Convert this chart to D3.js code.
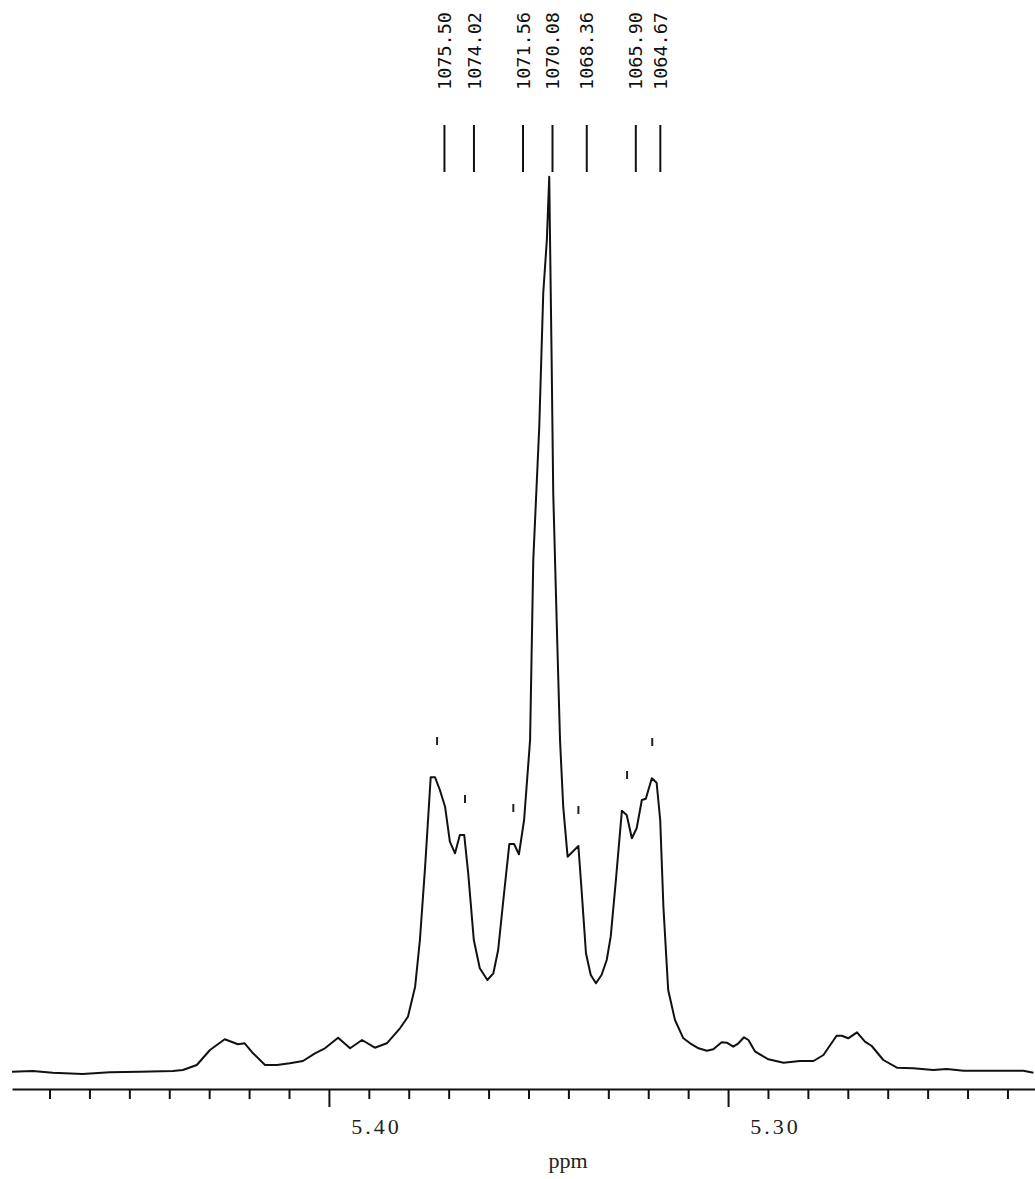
<!DOCTYPE html>
<html>
<head>
<meta charset="utf-8">
<script src="https://cdn.jsdelivr.net/npm/d3@7"></script>
<style>
  html, body { margin: 0; padding: 0; background: #fff; }
  svg { display: block; }
</style>
</head>
<body>
<div id="chart"></div>
<script>
// spectrum trace: [ppm, intensity (arbitrary units)]
const spectrum = [
  [5.4794, 3.3], [5.4742, 4], [5.4692, 2.3], [5.4617, 1], [5.4549, 2.7],
  [5.4474, 3.3], [5.4391, 4], [5.4366, 5], [5.4331, 10], [5.4298, 25],
  [5.4261, 35.7], [5.4228, 30.7], [5.4211, 31.7], [5.4190, 21.7], [5.4160, 10],
  [5.4130, 10], [5.4098, 11.7], [5.4065, 14], [5.4035, 21.7], [5.4010, 26.7],
  [5.3977, 37.3], [5.3947, 26.7], [5.3917, 35], [5.3885, 27.3], [5.3855, 31.7],
  [5.3822, 46.7], [5.3802, 58.3], [5.3784, 88.3], [5.3772, 135], [5.3759, 208.3],
  [5.3745, 297.7], [5.3734, 297.7], [5.3722, 285], [5.3709, 268.3], [5.3697, 233.3],
  [5.3684, 221.7], [5.3672, 240], [5.3661, 240], [5.3651, 201.7], [5.3637, 135],
  [5.3622, 106.7], [5.3603, 95], [5.3588, 101.7], [5.3576, 125], [5.3563, 175],
  [5.3548, 231], [5.3536, 231], [5.3524, 220.7], [5.3511, 255], [5.3496, 335],
  [5.3488, 515], [5.3473, 648.3], [5.3463, 782], [5.3454, 835], [5.3448, 898.3],
  [5.3446, 835], [5.3442, 715], [5.3438, 582], [5.3429, 448.3], [5.3421, 335],
  [5.3413, 268.3], [5.3402, 218.3], [5.3375, 229], [5.3367, 185], [5.3356, 121.7],
  [5.3344, 100], [5.3331, 91.7], [5.3317, 100], [5.3304, 115], [5.3294, 138.3],
  [5.3281, 195], [5.3266, 264.3], [5.3254, 260], [5.3241, 236.7], [5.3229, 246.7],
  [5.3216, 275], [5.3206, 276.3], [5.3191, 296.7], [5.3179, 292.3], [5.3170, 255],
  [5.3162, 168.3], [5.3150, 85], [5.3133, 55], [5.3112, 36.7], [5.3095, 31.7],
  [5.3074, 26.7], [5.3053, 24.3], [5.3037, 25.7], [5.3016, 32.7], [5.3003, 32.3],
  [5.2987, 28.3], [5.2974, 31.7], [5.2960, 37.7], [5.2949, 35], [5.2932, 23.3],
  [5.2899, 15.7], [5.2861, 12.3], [5.2820, 14], [5.2786, 14], [5.2761, 20],
  [5.2744, 30], [5.2728, 39.3], [5.2715, 39.3], [5.2699, 36.7], [5.2677, 42.7],
  [5.2657, 33.3], [5.2640, 29], [5.2611, 15], [5.2577, 7.3], [5.2536, 6.7],
  [5.2486, 5], [5.2452, 6], [5.2410, 4.3], [5.2327, 4.3], [5.2260, 4.3],
  [5.2235, 2.3]
];

// peak list (Hz) printed on top
const peakHz = [1075.50, 1074.02, 1071.56, 1070.08, 1068.36, 1065.90, 1064.67];
const specFreq = 200.24; // MHz

// picked peak positions (ppm) and heights for the small markers
const pickPpm = [5.3729, 5.3659, 5.3538, 5.3375, 5.3253, 5.3190];
const pickHeight = [298, 240, 231, 229, 264, 297];

// axis
const ppmDomain = [5.4794, 5.2231];
const tickStep = 0.01;
const majorTicks = [5.40, 5.30];
const axisTitle = 'ppm';

const width = 1035, height = 1179;
const axisY = 1089;

const svg = d3.select('#chart').append('svg')
  .attr('width', width)
  .attr('height', height);

const x = d3.scaleLinear().domain(ppmDomain).range([12, 1035]);
const y = d3.scaleLinear().domain([0, 900]).range([1075, 175]);

// spectrum line
const line = d3.line()
  .x(d => x(d[0]))
  .y(d => y(d[1]))
  .curve(d3.curveLinear);

svg.append('path')
  .datum(spectrum)
  .attr('d', line)
  .attr('fill', 'none')
  .attr('stroke', '#111')
  .attr('stroke-width', 2)
  .attr('stroke-linejoin', 'round');

// peak pick markers
svg.selectAll('.pick')
  .data(d3.zip(pickPpm, pickHeight))
  .enter().append('line')
  .attr('class', 'pick')
  .attr('x1', d => x(d[0]))
  .attr('x2', d => x(d[0]))
  .attr('y1', d => y(d[1]) - 32)
  .attr('y2', d => y(d[1]) - 40)
  .attr('stroke', '#222')
  .attr('stroke-width', 2);

// peak list lines + labels
const labels = svg.append('g').attr('class', 'peak-labels');

labels.selectAll('line')
  .data(peakHz)
  .enter().append('line')
  .attr('x1', d => x(d / specFreq))
  .attr('x2', d => x(d / specFreq))
  .attr('y1', 125)
  .attr('y2', 172)
  .attr('stroke', '#111')
  .attr('stroke-width', 2);

labels.selectAll('text')
  .data(peakHz)
  .enter().append('text')
  .attr('transform', d => `translate(${x(d / specFreq)},90) rotate(-90)`)
  .attr('dy', '0.36em')
  .attr('font-family', '"DejaVu Sans Mono", monospace')
  .attr('font-size', 18.5)
  .attr('fill', '#111')
  .text(d => d.toFixed(2));

// x axis
const tickValues = d3.range(5.23, 5.4705, tickStep).map(v => +v.toFixed(2));
const isMajor = v => majorTicks.some(m => Math.abs(m - v) < 1e-6);

const axis = d3.axisBottom(x)
  .tickValues(tickValues)
  .tickSizeInner(10)
  .tickSizeOuter(0)
  .tickFormat(d => isMajor(d) ? d.toFixed(2) : '');

const gAxis = svg.append('g')
  .attr('transform', `translate(0,${axisY})`)
  .call(axis);

gAxis.select('.domain')
  .attr('stroke', '#111')
  .attr('stroke-width', 2);

gAxis.selectAll('.tick line')
  .attr('stroke', '#111')
  .attr('stroke-width', 2)
  .attr('y2', d => isMajor(d) ? 18 : 10);

gAxis.selectAll('.tick text')
  .attr('fill', '#222')
  .attr('font-family', '"Liberation Serif", serif')
  .attr('font-size', 22)
  .attr('letter-spacing', 3)
  .attr('y', 45)
  .attr('dx', 47)
  .attr('dy', 0)
  .attr('text-anchor', 'middle');

svg.append('text')
  .attr('x', 568)
  .attr('y', 1168)
  .attr('text-anchor', 'middle')
  .attr('font-family', '"Liberation Serif", serif')
  .attr('font-size', 22)
  .attr('fill', '#222')
  .text(axisTitle);
</script>
</body>
</html>
